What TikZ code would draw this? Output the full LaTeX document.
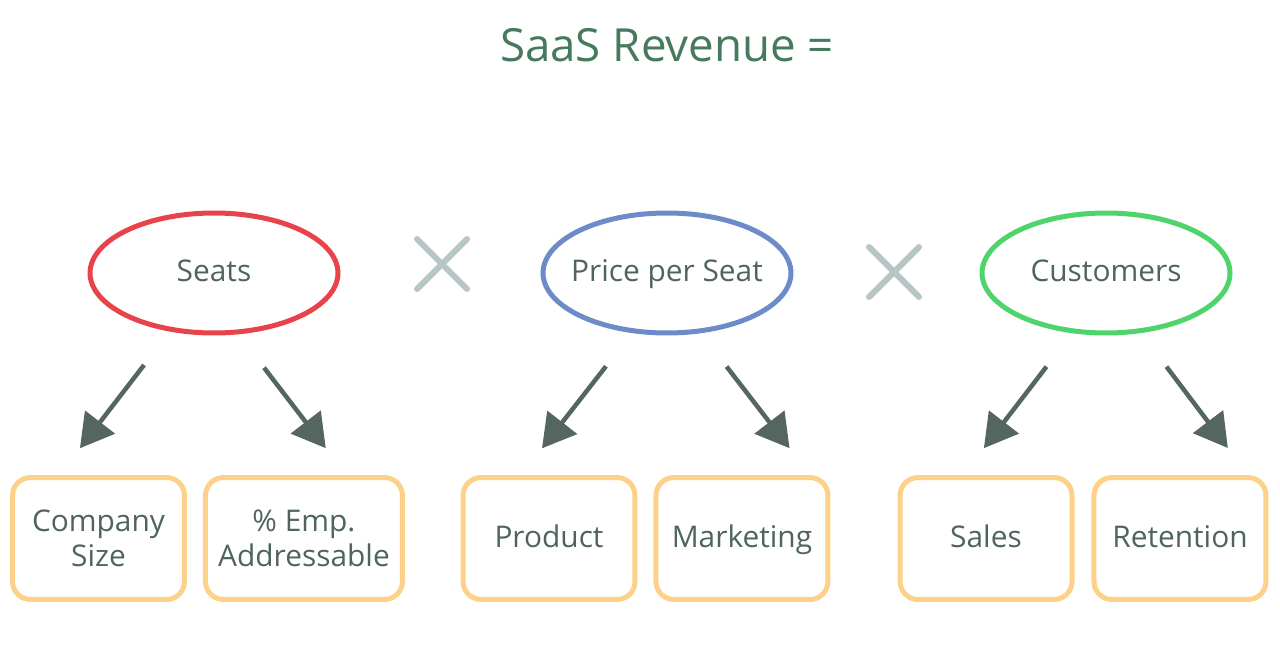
\documentclass[tikz,border=0pt]{standalone}
\usepackage{fontspec}
\setmainfont{Open Sans}
\usepackage{xcolor}
\usepackage{tikz}
\usetikzlibrary{shapes,arrows.meta,positioning,calc}

\definecolor{ink}{HTML}{4F655C}
\definecolor{titleink}{HTML}{467A5C}
\definecolor{seatred}{HTML}{E8434B}
\definecolor{priceblue}{HTML}{6D8BC9}
\definecolor{custgreen}{HTML}{4FD36B}
\definecolor{boxorange}{HTML}{FDD18A}
\definecolor{crossgray}{HTML}{B5C6C5}
\definecolor{arrowgray}{HTML}{55665E}

\begin{document}
\begin{tikzpicture}[x=0.02cm, y=-0.02cm, thick,
    oneline/.style={text height=1.0em, text depth=0pt},
    factor/.style={ellipse, draw, line width=0.1cm, outer sep=0pt,
        inner sep=0pt, inner xsep=-0.6cm, oneline,
        minimum width=4.96cm, minimum height=2.4cm, text=ink,
        font=\fontsize{17}{20}\selectfont},
    driver/.style={draw=boxorange, rounded corners=0.36cm, line width=0.1cm,
        outer sep=0pt, minimum width=3.44cm, minimum height=2.44cm,
        align=center, text=ink, font=\fontsize{17}{20}\selectfont},
    timesmark/.style={minimum size=1.0cm, inner sep=0pt, outer sep=0pt},
    timesline/.style={draw=crossgray, line width=0.12cm, line cap=round},
    pull/.style={draw=arrowgray, line width=0.09cm,
        -{Triangle[length=0.66cm,width=0.74cm]},
        shorten <=0.9cm, shorten >=0.74cm}]
    \useasboundingbox (0,0) rectangle (1280,662);

    \node[text=titleink, font=\fontsize{26}{30}\selectfont] (title) at (667,45) {SaaS Revenue =};

    \node[factor, draw=seatred] (seats) at (214,273) {Seats};
    \node[factor, draw=priceblue] (price) at (667,273) {Price per Seat};
    \node[factor, draw=custgreen] (customers) at (1106,273) {Customers};

    \node[timesmark] (times1) at (442,264) {};
    \node[timesmark] (times2) at (894,272) {};
    \foreach \t in {times1,times2}
        \draw[timesline] (\t.north west) -- (\t.south east)
                         (\t.north east) -- (\t.south west);

    \node[driver] (compsize) at (98.5,538.5) {Company\\Size};
    \node[driver, minimum width=3.94cm, right=0.42cm of compsize] (empaddr) {\% Emp.\\Addressable};
    \node[driver, oneline] (product) at (549,538.5) {Product};
    \node[driver, oneline, right=0.42cm of product] (marketing) {Marketing};
    \node[driver, oneline] (sales) at (986,538.5) {Sales};
    \node[driver, oneline, right=0.44cm of sales] (retention) {Retention};

    \foreach \from/\a/\to/\b in {seats/233/compsize/124, seats/291/empaddr/54,
                                 price/240/product/116, price/299/marketing/41,
                                 customers/241/sales/112, customers/300/retention/41}
        \draw[pull] (\from.\a) -- (\to.\b);
\end{tikzpicture}
\end{document}
